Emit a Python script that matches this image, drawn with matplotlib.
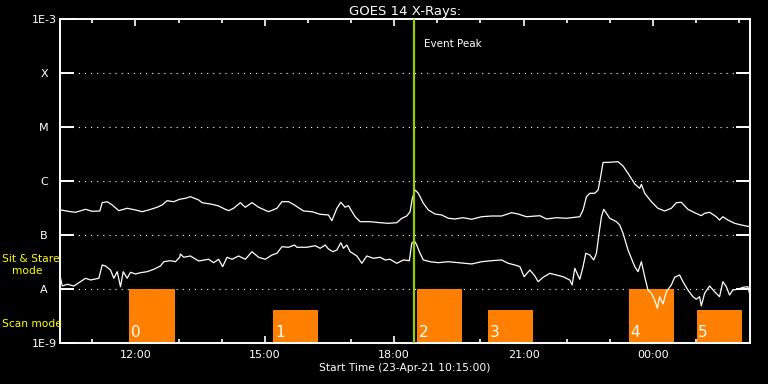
import numpy as np
import matplotlib
matplotlib.use('Agg')
import matplotlib.pyplot as plt
from matplotlib.ticker import FixedLocator, NullLocator

######################################################################
######### Data (clock hours, log10 W/m^2)
######################################################################
# long channel (1-8 A), upper curve
t_long = [10.264, 10.495, 10.611, 10.843, 10.998, 11.174, 11.229, 11.345, 11.461, 11.614,
          11.808, 12.000, 12.156, 12.308, 12.503, 12.619, 12.734, 12.887, 13.026, 13.158,
          13.274, 13.466, 13.545, 13.776, 13.929, 14.084, 14.161, 14.276, 14.432, 14.547,
          14.703, 14.855, 15.087, 15.281, 15.397, 15.550, 15.689, 15.744, 15.897, 16.092,
          16.284, 16.476, 16.555, 16.671, 16.763, 16.863, 16.939, 17.094, 17.210, 17.442,
          17.673, 17.865, 18.060, 18.176, 18.292, 18.368, 18.421, 18.484, 18.560, 18.676,
          18.792, 18.947, 19.102, 19.255, 19.410, 19.602, 19.797, 20.028, 20.260, 20.491,
          20.723, 20.875, 21.014, 21.070, 21.378, 21.533, 21.765, 21.996, 22.304, 22.380,
          22.459, 22.536, 22.652, 22.728, 22.767, 22.844, 22.999, 23.191, 23.307, 23.422,
          23.578, 23.693, 23.733, 23.809, 23.964, 24.117, 24.272, 24.427, 24.543, 24.659,
          24.811, 24.967, 25.122, 25.198, 25.314, 25.469, 25.545, 25.622, 25.737, 25.893,
          26.048, 26.240]
f_long = [-6.531, -6.563, -6.574, -6.519, -6.556, -6.550, -6.396, -6.378, -6.439, -6.544,
          -6.500, -6.531, -6.563, -6.531, -6.481, -6.439, -6.359, -6.378, -6.333, -6.315,
          -6.285, -6.346, -6.396, -6.426, -6.457, -6.519, -6.544, -6.500, -6.396, -6.481,
          -6.396, -6.481, -6.563, -6.500, -6.378, -6.378, -6.439, -6.470, -6.550, -6.563,
          -6.611, -6.624, -6.730, -6.500, -6.389, -6.481, -6.452, -6.656, -6.748, -6.748,
          -6.767, -6.778, -6.767, -6.685, -6.643, -6.563, -6.315, -6.161, -6.222, -6.407,
          -6.531, -6.606, -6.624, -6.685, -6.698, -6.674, -6.704, -6.656, -6.643, -6.643,
          -6.581, -6.606, -6.643, -6.656, -6.637, -6.698, -6.674, -6.685, -6.656, -6.531,
          -6.285, -6.222, -6.222, -6.161, -6.007, -5.652, -5.648, -5.637, -5.717, -5.852,
          -6.050, -6.130, -6.056, -6.222, -6.378, -6.500, -6.550, -6.500, -6.396, -6.389,
          -6.519, -6.581, -6.637, -6.593, -6.574, -6.656, -6.717, -6.656, -6.717, -6.778,
          -6.809, -6.841]

# short channel (0.5-4 A), lower curve
t_short = [10.264, 10.303, 10.419, 10.572, 10.688, 10.843, 10.959, 11.151, 11.229, 11.306,
           11.422, 11.498, 11.577, 11.653, 11.716, 11.808, 11.885, 12.000, 12.116, 12.271,
           12.424, 12.579, 12.656, 12.811, 12.927, 13.026, 13.042, 13.119, 13.274, 13.466,
           13.698, 13.813, 13.929, 14.022, 14.124, 14.239, 14.392, 14.547, 14.703, 14.855,
           15.010, 15.166, 15.281, 15.397, 15.550, 15.689, 15.744, 15.976, 16.168, 16.284,
           16.400, 16.476, 16.578, 16.671, 16.763, 16.823, 16.902, 16.978, 17.134, 17.250,
           17.365, 17.518, 17.673, 17.789, 17.905, 18.060, 18.213, 18.352, 18.407, 18.467,
           18.523, 18.599, 18.676, 18.831, 19.023, 19.255, 19.486, 19.797, 20.028, 20.260,
           20.491, 20.644, 20.799, 20.915, 21.014, 21.146, 21.262, 21.338, 21.454, 21.609,
           21.765, 21.917, 22.072, 22.126, 22.188, 22.241, 22.304, 22.380, 22.443, 22.536,
           22.628, 22.690, 22.751, 22.806, 22.859, 22.922, 22.999, 23.154, 23.230, 23.307,
           23.422, 23.578, 23.654, 23.733, 23.809, 23.885, 23.964, 24.040, 24.103, 24.156,
           24.233, 24.311, 24.427, 24.504, 24.619, 24.696, 24.811, 24.927, 25.006, 25.082,
           25.122, 25.198, 25.314, 25.429, 25.545, 25.622, 25.701, 25.777, 25.853, 25.969,
           26.085, 26.201, 26.240]
f_short = [-7.796, -7.939, -7.907, -7.939, -7.878, -7.796, -7.828, -7.796, -7.550, -7.569,
           -7.643, -7.796, -7.674, -7.952, -7.674, -7.796, -7.685, -7.717, -7.693, -7.674,
           -7.630, -7.569, -7.489, -7.470, -7.489, -7.407, -7.346, -7.407, -7.383, -7.476,
           -7.444, -7.507, -7.444, -7.581, -7.407, -7.444, -7.383, -7.444, -7.304, -7.407,
           -7.444, -7.365, -7.333, -7.211, -7.222, -7.180, -7.222, -7.222, -7.193, -7.241,
           -7.180, -7.254, -7.304, -7.272, -7.137, -7.241, -7.180, -7.304, -7.383, -7.519,
           -7.383, -7.426, -7.407, -7.457, -7.444, -7.519, -7.457, -7.470, -7.148, -7.100,
           -7.180, -7.333, -7.457, -7.489, -7.507, -7.489, -7.507, -7.531, -7.489, -7.470,
           -7.457, -7.519, -7.550, -7.580, -7.767, -7.643, -7.754, -7.859, -7.778, -7.704,
           -7.735, -7.767, -7.828, -7.920, -7.611, -7.704, -7.815, -7.580, -7.333, -7.365,
           -7.457, -7.333, -6.963, -6.656, -6.519, -6.593, -6.685, -6.748, -6.809, -6.963,
           -7.272, -7.580, -7.674, -7.489, -7.767, -8.013, -8.074, -8.198, -8.352, -8.137,
           -8.272, -8.044, -7.920, -7.778, -7.735, -7.859, -8.013, -8.137, -8.185, -8.137,
           -8.309, -8.074, -7.939, -8.044, -8.137, -7.859, -7.952, -8.106, -8.013, -8.000,
           -7.963, -7.952, -8.074]

# observing windows
obs_start = [11.862, 15.196, 18.530, 20.174, 23.439, 25.013]
obs_end = [12.927, 16.238, 19.572, 21.209, 24.480, 26.055]
obs_mode = ['stare', 'scan', 'stare', 'scan', 'stare', 'scan']
mode_level = {'stare': 1e-8, 'scan': 4.1e-9}

event_peak = 18.453
t_begin = 10.25
t_end = 26.25

flare_labels = ['1E-9', 'A', 'B', 'C', 'M', 'X', '1E-3']
flare_levels = [1e-9, 1e-8, 1e-7, 1e-6, 1e-5, 1e-4, 1e-3]
hour_ticks = [12, 15, 18, 21, 24]

######################################################################
######### Plot
######################################################################
orange = '#ff8000'
yel = '#ffff00'

fig = plt.figure(figsize=(7.68, 3.84), dpi=100, facecolor='black')
ax = fig.add_axes([0.0781, 0.106, 0.8984, 0.8438], facecolor='black')

ax.set_yscale('log')
ax.set_xlim(t_begin, t_end)
ax.set_ylim(1e-9, 1e-3)

# dotted class lines
for lev in flare_levels[1:-1]:
    ax.axhline(lev, color='white', lw=0.8, ls=(0, (1, 4.5)), zorder=1)

# observing windows
for i in range(len(obs_start)):
    top = mode_level[obs_mode[i]]
    ax.fill_between([obs_start[i], obs_end[i]], 1e-9, top, color=orange, lw=0, zorder=2)
    ax.text(obs_start[i] + 0.04, 1.15e-9, str(i), color='white', fontsize=11,
            ha='left', va='bottom', zorder=4)

ax.plot(t_long, 10 ** np.array(f_long), color='white', lw=0.9, zorder=3)
ax.plot(t_short, 10 ** np.array(f_short), color='white', lw=0.9, zorder=3)

ax.axvline(event_peak, color='#9acd00', lw=1.6, zorder=5)
ax.text(event_peak + 0.24, 10 ** -3.45, 'Event Peak', color='white', fontsize=7.5,
        ha='left', va='center')

# axes style
for s in ax.spines.values():
    s.set_color('white')
    s.set_linewidth(1.4)

ax.xaxis.set_major_locator(FixedLocator(hour_ticks))
ax.xaxis.set_minor_locator(FixedLocator(np.arange(11, 27)))
ax.set_xticklabels(['%02d:00' % (h % 24) for h in hour_ticks])
ax.tick_params(axis='x', which='major', direction='in', length=5, width=1.2,
               top=True, colors='white', labelsize=8, pad=5)
ax.tick_params(axis='x', which='minor', direction='in', length=3, width=1.2,
               top=True, colors='white')

ax.yaxis.set_major_locator(FixedLocator(flare_levels))
ax.yaxis.set_minor_locator(NullLocator())
ax.set_yticklabels(flare_labels)
ax.tick_params(axis='y', which='major', direction='in', length=10, width=1.4,
               right=True, colors='white', labelsize=8, pad=0)
for lab in ax.get_yticklabels():
    lab.set_horizontalalignment('center')
    lab.set_x(-0.023)

ax.set_title('GOES 14 X-Rays:', color='white', fontsize=9.5, pad=3)
ax.set_xlabel('Start Time (23-Apr-21 10:15:00)', color='white', fontsize=7.7, labelpad=2)

# mode labels on the left
fig.text(2 / 768., (384 - 259) / 384., 'Sit & Stare', color=yel, fontsize=7.7, ha='left', va='center')
fig.text(12 / 768., (384 - 271) / 384., 'mode', color=yel, fontsize=7.7, ha='left', va='center')
fig.text(2 / 768., (384 - 324) / 384., 'Scan mode', color=yel, fontsize=7.7, ha='left', va='center')

plt.savefig('out.png', dpi=100, facecolor='black')
